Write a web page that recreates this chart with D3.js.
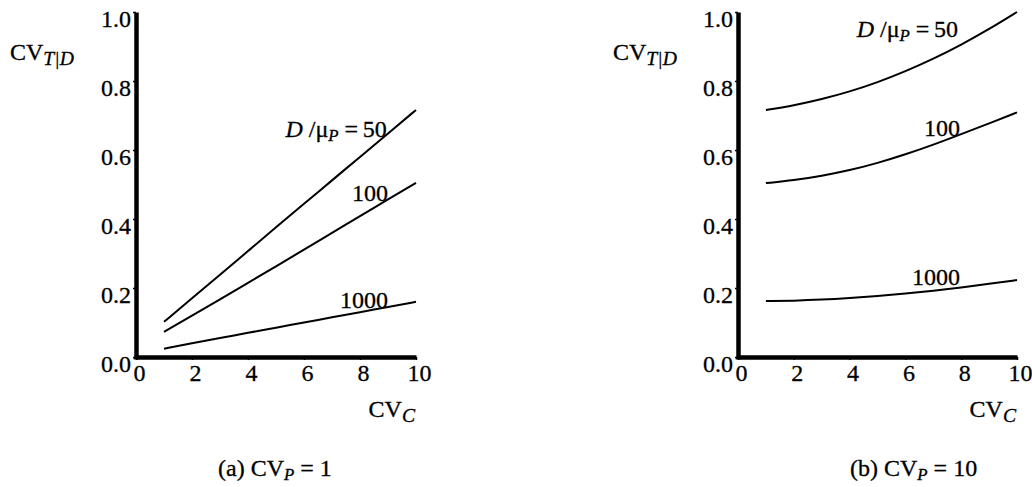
<!DOCTYPE html>
<html>
<head>
<meta charset="utf-8">
<script src="https://cdn.jsdelivr.net/npm/d3@7"></script>
<style>
  html, body { margin: 0; padding: 0; background: #fff; }
  svg { display: block; }
  text { font-family: "Liberation Serif", "Times New Roman", serif; fill: #000; stroke: #000; stroke-width: 0.3px; }
</style>
</head>
<body>
<svg id="chart" width="1032" height="487"></svg>
<script>
// ---- data ----
const cvC = [1, 2, 3, 4, 5, 6, 7, 8, 9, 10];
const seriesNames = ["50", "100", "1000"];
// panel (a) CV_P = 1
const a50   = [0.102, 0.170, 0.238, 0.307, 0.376, 0.444, 0.512, 0.580, 0.648, 0.716];
const a100  = [0.073, 0.120, 0.167, 0.215, 0.263, 0.311, 0.360, 0.408, 0.457, 0.505];
const a1000 = [0.024, 0.040, 0.055, 0.070, 0.085, 0.100, 0.115, 0.130, 0.145, 0.160];
// panel (b) CV_P = 10
const b50   = [0.716, 0.729, 0.747, 0.769, 0.796, 0.828, 0.864, 0.905, 0.950, 1.000];
const b100  = [0.504, 0.512, 0.525, 0.541, 0.562, 0.587, 0.615, 0.646, 0.677, 0.709];
const b1000 = [0.162, 0.163, 0.166, 0.171, 0.177, 0.184, 0.192, 0.201, 0.212, 0.223];
const xTicks = [0, 2, 4, 6, 8, 10];
const yTicks = [0.0, 0.2, 0.4, 0.6, 0.8, 1.0];
// label anchor positions in data units [x(end), y(baseline)]
const aLabelPos = [[8.96, 0.638], [9.0, 0.452], [9.0, 0.142]];
const bLabelPos = [[7.89, 0.928], [7.96, 0.641], [7.96, 0.209]];

const svg = d3.select("#chart");
const FS = 24;

function panel(cfg) {
  const x = d3.scaleLinear().domain([0, 10]).range([cfg.x0, cfg.x1]);
  const y = d3.scaleLinear().domain([0, 1]).range([357, 12]);
  const g = svg.append("g");

  // axes
  const xAxis = g.append("g").attr("transform", `translate(0,${y(0)})`)
    .call(d3.axisBottom(x).tickValues(xTicks).tickSize(3).tickSizeOuter(0).tickPadding(4).tickFormat(d3.format("d")));
  const yAxis = g.append("g").attr("transform", `translate(${x(0)},0)`)
    .call(d3.axisLeft(y).tickValues(yTicks).tickSize(3).tickSizeOuter(0).tickPadding(2).tickFormat(d3.format(".1f")));
  [xAxis, yAxis].forEach(ax => {
    ax.select(".domain").attr("stroke", "#000").attr("stroke-width", 4.5);
    ax.selectAll(".tick line").attr("stroke", "#000").attr("stroke-width", 1.5);
    ax.selectAll(".tick text").attr("font-family", "Liberation Serif").attr("font-size", FS).attr("fill", "#000");
  });
  xAxis.selectAll(".tick text").attr("dx", 3);
  yAxis.selectAll(".tick text").attr("dy", "0.6em");
  // extend corner
  g.append("line").attr("x1", x(0)).attr("x2", x(0)).attr("y1", y(0)).attr("y2", y(0) + 2.5)
    .attr("stroke", "#000").attr("stroke-width", 4.5);

  // curves
  const line = d3.line().x((d, i) => x(cvC[i])).y(d => y(d)).curve(d3.curveBasis);
  cfg.series.forEach(s => {
    g.append("path").attr("d", line(s)).attr("fill", "none").attr("stroke", "#000").attr("stroke-width", 2);
  });

  // curve labels
  const l0 = g.append("text").attr("x", x(cfg.labels[0][0])).attr("y", y(cfg.labels[0][1]))
    .attr("text-anchor", "end").attr("font-size", FS);
  l0.append("tspan").attr("font-style", "italic").text("D");
  l0.append("tspan").text(" /\u03bc");
  l0.append("tspan").attr("font-style", "italic").attr("font-size", FS * 0.7).attr("dy", 4).text("P");
  l0.append("tspan").attr("dy", -4).text(" =\u200950");
  [1, 2].forEach(k => {
    g.append("text").attr("x", x(cfg.labels[k][0])).attr("y", y(cfg.labels[k][1]))
      .attr("text-anchor", "end").attr("font-size", FS).text(seriesNames[k]);
  });

  // y title
  const yt = g.append("text").attr("x", cfg.yTitleX).attr("y", 60).attr("font-size", FS);
  yt.append("tspan").text("CV");
  yt.append("tspan").attr("font-style", "italic").attr("font-size", FS * 0.82).attr("dy", 5).text("T|D");

  // x title
  const xt = g.append("text").attr("x", x(10) - 1).attr("y", 417).attr("text-anchor", "end").attr("font-size", FS);
  xt.append("tspan").text("CV");
  xt.append("tspan").attr("font-style", "italic").attr("font-size", FS * 0.82).attr("dy", 5).text("C");

  // caption
  const cp = g.append("text").attr("x", cfg.capX).attr("y", 476).attr("font-size", FS);
  cp.append("tspan").text(cfg.capPrefix + " CV");
  cp.append("tspan").attr("font-style", "italic").attr("font-size", FS * 0.7).attr("dy", 4).text("P");
  cp.append("tspan").attr("dy", -4).text(" = " + cfg.capValue);
}

panel({ x0: 136, x1: 416, series: [a50, a100, a1000], labels: aLabelPos,
        yTitleX: 10, capX: 218, capPrefix: "(a)", capValue: "1" });
panel({ x0: 738, x1: 1017, series: [b50, b100, b1000], labels: bLabelPos,
        yTitleX: 613, capX: 850, capPrefix: "(b)", capValue: "10" });
</script>
</body>
</html>
